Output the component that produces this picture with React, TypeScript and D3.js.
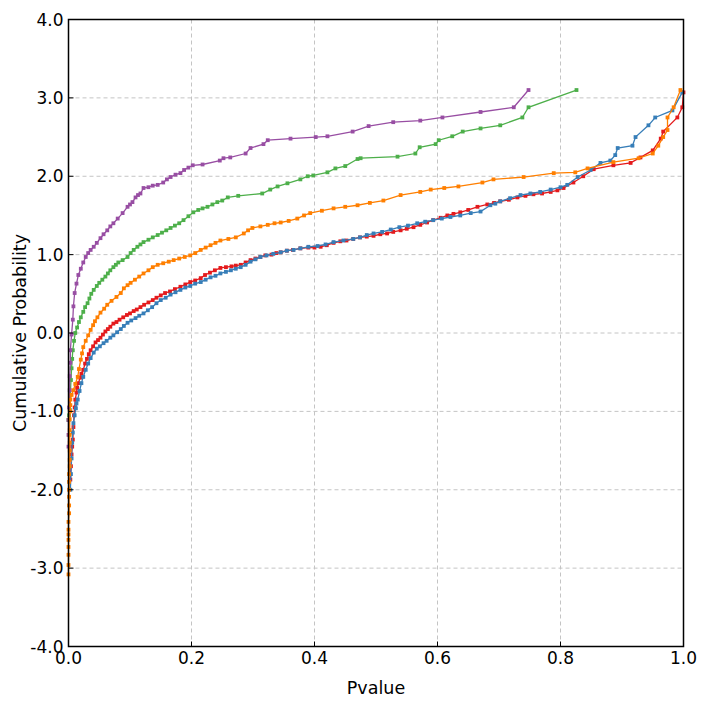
import React from 'react';
import * as d3 from 'd3';

// each point is [pvalue, cumulative probability (probit)]
const purple: [number, number][] = [
  [0, -1.45], [0, -1.3], [0, -1.11], [0.001, -0.95], [0.002, -0.73], [0.002, -0.55], [0.003, -0.38],
  [0.003, -0.22], [0.005, -0.02], [0.007, 0.17], [0.008, 0.34], [0.01, 0.51], [0.013, 0.63], [0.016, 0.74],
  [0.02, 0.82], [0.024, 0.9], [0.028, 0.97], [0.032, 1.02], [0.036, 1.06], [0.041, 1.1], [0.046, 1.15],
  [0.052, 1.21], [0.057, 1.26], [0.063, 1.31], [0.068, 1.36], [0.073, 1.4], [0.08, 1.46], [0.088, 1.53],
  [0.096, 1.61], [0.1, 1.64], [0.104, 1.67], [0.109, 1.73], [0.113, 1.76], [0.117, 1.78], [0.122, 1.85],
  [0.13, 1.86], [0.137, 1.88], [0.145, 1.89], [0.154, 1.92], [0.16, 1.96], [0.166, 1.99], [0.174, 2.02],
  [0.182, 2.04], [0.188, 2.08], [0.195, 2.11], [0.202, 2.14], [0.218, 2.15], [0.246, 2.2], [0.252, 2.23],
  [0.263, 2.24], [0.288, 2.29], [0.296, 2.36], [0.317, 2.41], [0.324, 2.46], [0.361, 2.48], [0.402, 2.5],
  [0.421, 2.51], [0.462, 2.57], [0.488, 2.64], [0.528, 2.69], [0.572, 2.71], [0.608, 2.75], [0.67, 2.82],
  [0.724, 2.88], [0.748, 3.1],
];

const green: [number, number][] = [
  [0, -1.11], [0.001, -1.05], [0.002, -0.98], [0.003, -0.79], [0.004, -0.6], [0.005, -0.45], [0.006, -0.33],
  [0.007, -0.22], [0.009, -0.1], [0.011, 0], [0.014, 0.07], [0.017, 0.14], [0.02, 0.2], [0.024, 0.27],
  [0.027, 0.33], [0.031, 0.38], [0.034, 0.44], [0.037, 0.5], [0.041, 0.55], [0.046, 0.6], [0.05, 0.64],
  [0.055, 0.68], [0.06, 0.72], [0.064, 0.76], [0.068, 0.8], [0.073, 0.84], [0.077, 0.87], [0.081, 0.9],
  [0.088, 0.93], [0.096, 0.97], [0.101, 1.02], [0.106, 1.06], [0.112, 1.1], [0.117, 1.13], [0.122, 1.16],
  [0.13, 1.19], [0.137, 1.22], [0.145, 1.25], [0.152, 1.28], [0.159, 1.31], [0.166, 1.34], [0.173, 1.37],
  [0.18, 1.4], [0.187, 1.44], [0.195, 1.49], [0.203, 1.54], [0.211, 1.57], [0.218, 1.59], [0.226, 1.61],
  [0.234, 1.64], [0.242, 1.67], [0.25, 1.69], [0.259, 1.73], [0.276, 1.75], [0.315, 1.78], [0.328, 1.83],
  [0.34, 1.87], [0.356, 1.91], [0.377, 1.96], [0.389, 2.0], [0.398, 2.01], [0.421, 2.05], [0.434, 2.1],
  [0.45, 2.13], [0.47, 2.22], [0.475, 2.23], [0.535, 2.25], [0.564, 2.29], [0.571, 2.37], [0.597, 2.41],
  [0.602, 2.46], [0.624, 2.51], [0.641, 2.57], [0.67, 2.61], [0.702, 2.65], [0.738, 2.75], [0.748, 2.88],
  [0.826, 3.1],
];

const orange: [number, number][] = [
  [0, -3.08], [0, -2.96], [0, -2.83], [0, -2.73], [0, -2.64], [0, -2.57], [0, -2.51], [0, -2.41],
  [0.001, -2.3], [0.001, -2.2], [0.001, -2.09], [0.001, -2.0], [0.001, -1.9], [0.001, -1.8], [0.002, -1.7],
  [0.002, -1.62], [0.002, -1.5], [0.002, -1.4], [0.002, -1.3], [0.002, -1.24], [0.002, -1.1], [0.003, -1.0],
  [0.003, -0.92], [0.003, -0.85], [0.005, -0.79], [0.008, -0.73], [0.011, -0.65], [0.015, -0.56],
  [0.017, -0.46], [0.02, -0.34], [0.022, -0.26], [0.024, -0.18], [0.028, -0.1], [0.032, -0.03], [0.036, 0.04],
  [0.04, 0.1], [0.043, 0.15], [0.047, 0.2], [0.052, 0.26], [0.058, 0.31], [0.063, 0.36], [0.07, 0.41],
  [0.078, 0.46], [0.085, 0.51], [0.09, 0.57], [0.096, 0.61], [0.101, 0.64], [0.108, 0.68], [0.115, 0.72],
  [0.122, 0.76], [0.13, 0.8], [0.137, 0.84], [0.145, 0.87], [0.154, 0.89], [0.163, 0.91], [0.171, 0.93],
  [0.18, 0.95], [0.189, 0.97], [0.198, 0.99], [0.206, 1.02], [0.215, 1.06], [0.223, 1.09], [0.231, 1.12],
  [0.239, 1.15], [0.247, 1.18], [0.26, 1.2], [0.272, 1.22], [0.285, 1.27], [0.292, 1.31], [0.299, 1.34],
  [0.312, 1.36], [0.324, 1.38], [0.335, 1.4], [0.345, 1.41], [0.358, 1.43], [0.372, 1.46], [0.383, 1.5],
  [0.393, 1.53], [0.412, 1.56], [0.431, 1.59], [0.45, 1.61], [0.47, 1.63], [0.49, 1.66], [0.512, 1.69],
  [0.54, 1.76], [0.572, 1.8], [0.589, 1.83], [0.611, 1.85], [0.634, 1.87], [0.673, 1.92], [0.691, 1.96],
  [0.74, 1.99], [0.789, 2.04], [0.824, 2.05], [0.844, 2.1], [0.886, 2.18], [0.927, 2.23], [0.95, 2.29],
  [0.959, 2.39], [0.967, 2.5], [0.974, 2.59], [0.974, 2.75], [0.984, 2.88], [0.995, 3.1],
];

const red: [number, number][] = [
  [0.003, -1.87], [0.004, -1.7], [0.005, -1.55], [0.006, -1.45], [0.007, -1.36], [0.008, -1.2],
  [0.009, -1.05], [0.01, -0.95], [0.011, -0.85], [0.013, -0.76], [0.014, -0.7], [0.016, -0.64],
  [0.019, -0.57], [0.021, -0.52], [0.024, -0.47], [0.027, -0.39], [0.03, -0.33], [0.033, -0.27],
  [0.036, -0.22], [0.04, -0.17], [0.044, -0.12], [0.048, -0.09], [0.052, -0.06], [0.056, -0.02],
  [0.06, 0.02], [0.064, 0.05], [0.068, 0.08], [0.073, 0.12], [0.078, 0.14], [0.083, 0.17], [0.089, 0.2],
  [0.095, 0.23], [0.1, 0.25], [0.106, 0.28], [0.111, 0.3], [0.117, 0.33], [0.123, 0.36], [0.13, 0.39],
  [0.137, 0.42], [0.143, 0.45], [0.15, 0.48], [0.157, 0.51], [0.165, 0.53], [0.173, 0.56], [0.182, 0.59],
  [0.19, 0.62], [0.198, 0.65], [0.206, 0.67], [0.215, 0.7], [0.222, 0.74], [0.23, 0.77], [0.238, 0.8],
  [0.247, 0.83], [0.256, 0.84], [0.265, 0.85], [0.272, 0.86], [0.28, 0.87], [0.288, 0.9], [0.296, 0.93],
  [0.304, 0.95], [0.312, 0.97], [0.32, 0.99], [0.33, 1.0], [0.338, 1.02], [0.345, 1.03], [0.355, 1.05],
  [0.365, 1.06], [0.377, 1.08], [0.39, 1.09], [0.4, 1.09], [0.41, 1.1], [0.42, 1.12], [0.431, 1.15],
  [0.442, 1.17], [0.452, 1.18], [0.463, 1.2], [0.474, 1.22], [0.485, 1.23], [0.496, 1.24], [0.507, 1.26],
  [0.518, 1.27], [0.528, 1.29], [0.54, 1.31], [0.55, 1.33], [0.561, 1.35], [0.572, 1.38], [0.583, 1.41],
  [0.593, 1.44], [0.605, 1.47], [0.616, 1.5], [0.626, 1.52], [0.637, 1.54], [0.65, 1.57], [0.665, 1.61],
  [0.681, 1.64], [0.692, 1.66], [0.702, 1.68], [0.716, 1.7], [0.73, 1.73], [0.743, 1.75], [0.756, 1.77],
  [0.77, 1.78], [0.784, 1.8], [0.795, 1.82], [0.805, 1.85], [0.821, 1.92], [0.837, 2.0], [0.854, 2.09],
  [0.886, 2.14], [0.914, 2.17], [0.93, 2.24], [0.95, 2.33], [0.963, 2.48], [0.967, 2.57], [0.99, 2.75],
  [0.998, 2.88], [1.0, 3.07],
];

const blue: [number, number][] = [
  [0.003, -2.0], [0.004, -1.8], [0.005, -1.6], [0.006, -1.4], [0.007, -1.27], [0.008, -1.15], [0.01, -1.05],
  [0.012, -0.96], [0.013, -0.9], [0.015, -0.85], [0.018, -0.74], [0.021, -0.64], [0.024, -0.56],
  [0.028, -0.47], [0.032, -0.39], [0.036, -0.32], [0.041, -0.25], [0.046, -0.2], [0.051, -0.17],
  [0.057, -0.13], [0.062, -0.1], [0.068, -0.06], [0.073, -0.03], [0.079, 0.01], [0.085, 0.05], [0.09, 0.09],
  [0.096, 0.13], [0.102, 0.16], [0.109, 0.19], [0.115, 0.22], [0.122, 0.25], [0.129, 0.29], [0.136, 0.33],
  [0.143, 0.38], [0.15, 0.42], [0.158, 0.45], [0.166, 0.49], [0.174, 0.52], [0.182, 0.55], [0.19, 0.58],
  [0.198, 0.6], [0.206, 0.63], [0.215, 0.65], [0.223, 0.68], [0.231, 0.71], [0.239, 0.73], [0.247, 0.76],
  [0.256, 0.78], [0.264, 0.8], [0.272, 0.82], [0.28, 0.84], [0.288, 0.87], [0.296, 0.91], [0.304, 0.94],
  [0.312, 0.97], [0.322, 0.99], [0.333, 1.01], [0.345, 1.03], [0.355, 1.05], [0.366, 1.06], [0.377, 1.08],
  [0.39, 1.1], [0.405, 1.11], [0.418, 1.13], [0.431, 1.16], [0.447, 1.18], [0.463, 1.2], [0.474, 1.22],
  [0.485, 1.25], [0.496, 1.27], [0.51, 1.29], [0.524, 1.32], [0.538, 1.35], [0.552, 1.37], [0.567, 1.4],
  [0.58, 1.42], [0.593, 1.44], [0.607, 1.46], [0.621, 1.48], [0.637, 1.5], [0.654, 1.53], [0.67, 1.55],
  [0.686, 1.63], [0.694, 1.65], [0.702, 1.68], [0.718, 1.72], [0.735, 1.76], [0.751, 1.78], [0.767, 1.8],
  [0.784, 1.83], [0.8, 1.86], [0.811, 1.89], [0.828, 1.99], [0.849, 2.08], [0.865, 2.17], [0.881, 2.2],
  [0.889, 2.27], [0.893, 2.36], [0.917, 2.39], [0.922, 2.5], [0.943, 2.65], [0.954, 2.75], [0.982, 2.84],
  [0.998, 3.07],
];

const xTicks = [0, 0.2, 0.4, 0.6, 0.8, 1.0];
const yTicks = [-4, -3, -2, -1, 0, 1, 2, 3, 4];

const series = [
  { name: 'red', data: red, color: '#e41a1c' },
  { name: 'blue', data: blue, color: '#377eb8' },
  { name: 'green', data: green, color: '#4daf4a' },
  { name: 'purple', data: purple, color: '#984ea3' },
  { name: 'orange', data: orange, color: '#ff7f00' },
];

const W = 710;
const H = 704;
const left = 68.5;
const right = 683.5;
const top = 19.5;
const bottom = 646.5;
const font = 'Tahoma, Verdana, "DejaVu Sans", sans-serif';

export default function App() {
  const x = d3.scaleLinear().domain([0, 1]).range([left, right]);
  const y = d3.scaleLinear().domain([-4, 4]).range([bottom, top]);
  const line = d3.line<[number, number]>().x(d => x(d[0])).y(d => y(d[1]));
  const ms = 3.8;

  return (
    <svg width={W} height={H} style={{ position: 'absolute', left: 0, top: 0, display: 'block', background: '#fff' }}>
      {/* grid */}
      {xTicks.slice(1, -1).map(t => (
        <line key={'gx' + t} x1={x(t)} x2={x(t)} y1={top} y2={bottom} stroke="#c4c4c4" strokeDasharray="4,3" />
      ))}
      {yTicks.slice(1, -1).map(t => (
        <line key={'gy' + t} x1={left} x2={right} y1={y(t)} y2={y(t)} stroke="#c4c4c4" strokeDasharray="4,3" />
      ))}

      {/* series */}
      {series.map(s => (
        <g key={s.name}>
          <path d={line(s.data) || ''} fill="none" stroke={s.color} strokeWidth={1.3} />
          {s.data.map((d, i) => (
            <rect key={i} x={x(d[0]) - ms / 2} y={y(d[1]) - ms / 2} width={ms} height={ms} fill={s.color} />
          ))}
        </g>
      ))}

      {/* frame */}
      <rect x={left} y={top} width={right - left} height={bottom - top} fill="none" stroke="#000" strokeWidth={1.5} />

      {/* ticks */}
      {xTicks.map(t => (
        <g key={'tx' + t}>
          <line x1={x(t)} x2={x(t)} y1={bottom} y2={bottom - 5} stroke="#000" />
          <text x={x(t)} y={bottom + 17} textAnchor="middle" fontSize={17} fontFamily={font} fill="#000">
            {t.toFixed(1)}
          </text>
        </g>
      ))}
      {yTicks.map(t => (
        <g key={'ty' + t}>
          <line x1={left} x2={left + 5} y1={y(t)} y2={y(t)} stroke="#000" />
          <text x={left - 5} y={y(t) + 6} textAnchor="end" fontSize={17} fontFamily={font} fill="#000">
            {t.toFixed(1)}
          </text>
        </g>
      ))}

      {/* axis titles */}
      <text x={(left + right) / 2} y={694} textAnchor="middle" fontSize={17.5} fontFamily={font} fill="#000">
        Pvalue
      </text>
      <text
        transform={`translate(26, ${(top + bottom) / 2}) rotate(-90)`}
        textAnchor="middle"
        fontSize={17.5}
        fontFamily={font}
        fill="#000"
      >
        Cumulative Probability
      </text>
    </svg>
  );
}
